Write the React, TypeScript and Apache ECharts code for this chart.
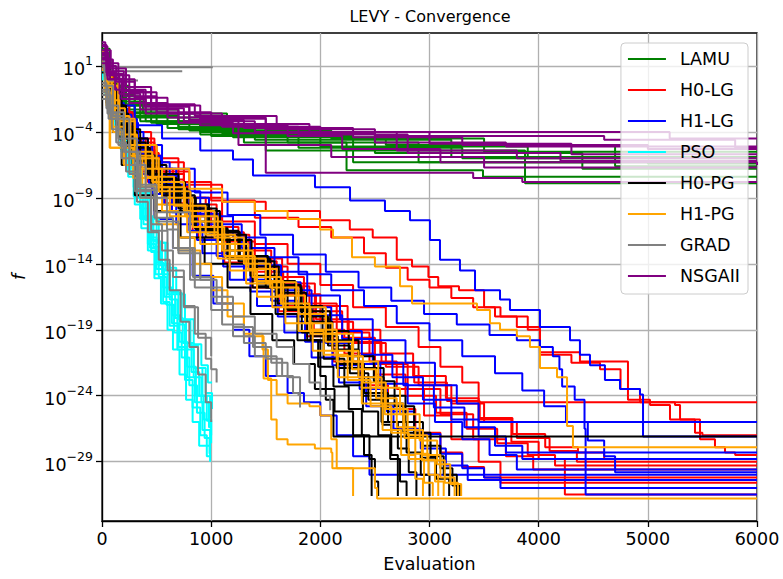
import React, { useEffect, useRef } from "react";
import * as echarts from "echarts";

// x: evaluation number; y values below are log10(f)
const X_MIN = 0;
const X_MAX = 6000;
const X_STEP = 1000;
const Y_LOG_MIN = -33.5;
const Y_LOG_MAX = 3.5;
const Y_TICK_EXPONENTS = [1, -4, -9, -14, -19, -24, -29];

const ALGORITHMS = ["LAMU", "H0-LG", "H1-LG", "PSO", "H0-PG", "H1-PG", "GRAD", "NSGAII"];
const ALGO_COLORS = ["#008000", "#ff0000", "#0000ff", "#00ffff", "#000000", "#ffa500", "#808080", "#800080"];

// each run: flat list of [evaluation, log10 f] pairs (post-step)
const LAMU_RUNS: number[][] = [
  [0, 1.8, 30, 0.5, 100, -1.0, 200, -2.0, 375, -2.6, 1145, -3.9, 2100, -4.5, 3500, -5.5, 6000, -5.5],
  [0, 1.2, 50, -0.3, 150, -1.5, 300, -2.8, 700, -3.6, 1300, -4.8, 2240, -6.9, 3490, -7.4, 6000, -7.4],
  [0, 2.0, 40, 0.2, 120, -1.3, 350, -3.2, 900, -4.2, 2000, -5.1, 3900, -5.9, 6000, -5.9],
  [0, 0.8, 60, -0.8, 200, -2.5, 600, -3.7, 1500, -5.4, 3875, -7.9, 6000, -7.9],
  [0, 1.5, 80, -0.5, 250, -2.6, 800, -3.9, 1700, -4.8, 2900, -6.3, 6000, -6.3],
  [0, 1.0, 45, -0.6, 180, -2.0, 500, -3.4, 1200, -4.4, 2600, -5.0, 4700, -6.6, 6000, -6.6],
  [0, 2.3, 70, 0.0, 220, -2.3, 700, -3.8, 1400, -4.6, 3200, -5.9, 6000, -5.9],
  [0, 1.4, 55, -0.4, 160, -1.9, 450, -3.3, 1000, -4.3, 2300, -6.3, 5000, -6.4, 6000, -6.4],
  [0, 0.5, 90, -1.2, 300, -2.9, 900, -4.0, 1800, -5.2, 3300, -6.0, 6000, -6.0],
  [0, 1.7, 35, 0.1, 140, -1.7, 400, -3.2, 1100, -4.1, 2500, -5.6, 4400, -6.8, 6000, -6.8],
];

const H0_LG_RUNS: number[][] = [
  [0, 1.8, 40, 0.0, 120, -2.0, 250, -4.0, 450, -6.0, 700, -7.8, 1000, -9.2, 1400, -10.5, 1800, -11.2, 2100, -12.0, 2400, -13.2, 2600, -14.3, 2800, -15.2, 3000, -15.8, 3200, -16.6, 3400, -17.3, 3600, -18.0, 3800, -18.8, 4012, -20.9, 4300, -21.5, 4562, -22.0, 4750, -23.5, 4928, -24.5, 5249, -24.7, 5295, -25.8, 5432, -26.8, 5500, -27.0, 6000, -27.0],
  [0, 1.3, 50, -0.5, 140, -2.5, 280, -4.5, 480, -6.3, 750, -8.0, 1100, -9.3, 1500, -10.0, 1997, -10.7, 2270, -11.4, 2480, -12.0, 2700, -13.7, 2840, -14.2, 2990, -15.0, 3080, -15.7, 3270, -16.0, 3500, -17.3, 3650, -18.0, 3900, -19.0, 4012, -20.7, 4378, -21.4, 4818, -24.3, 5020, -24.7, 5203, -25.8, 5478, -27.3, 5615, -27.9, 5707, -28.3, 5800, -28.5, 6000, -28.5],
  [0, 1.0, 60, -1.0, 150, -3.0, 300, -5.0, 500, -7.0, 800, -9.0, 1100, -10.8, 1400, -12.5, 1700, -14.0, 2000, -15.6, 2300, -17.3, 2600, -18.8, 2900, -20.3, 3100, -21.8, 3300, -23.0, 3450, -24.5, 6000, -24.5],
  [0, 1.5, 45, -0.5, 130, -2.5, 280, -4.8, 480, -7.2, 750, -9.5, 1050, -11.8, 1350, -13.6, 1650, -15.5, 1950, -17.2, 2250, -19.0, 2550, -20.8, 2850, -22.5, 3150, -24.2, 3450, -25.8, 3750, -27.5, 4000, -28.8, 4240, -31.5, 6000, -31.5],
  [0, 2.0, 35, 0.2, 100, -2.2, 220, -4.5, 400, -6.8, 650, -9.0, 950, -11.2, 1250, -13.0, 1550, -15.0, 1850, -17.0, 2150, -19.2, 2450, -21.4, 2700, -23.5, 2950, -25.5, 3200, -27.3, 3450, -29.0, 3650, -30.6, 6000, -30.6],
  [0, 1.2, 50, -0.8, 140, -2.9, 300, -5.4, 500, -7.6, 750, -9.8, 1000, -11.6, 1300, -13.8, 1600, -15.7, 1900, -17.6, 2200, -19.6, 2500, -21.6, 2800, -23.5, 3100, -25.4, 3400, -27.3, 3700, -28.6, 3950, -29.6, 6000, -29.6],
  [0, 0.7, 65, -1.5, 170, -3.6, 330, -5.8, 550, -8.2, 800, -10.2, 1100, -12.3, 1400, -14.2, 1700, -16.3, 2000, -18.4, 2300, -20.0, 2600, -21.8, 2900, -23.2, 3200, -24.6, 3500, -26.0, 3800, -27.2, 4100, -28.2, 4350, -29.0, 6000, -29.0],
  [0, 1.6, 40, -0.6, 110, -2.7, 240, -5.3, 420, -7.8, 640, -10.0, 880, -12.0, 1120, -13.9, 1370, -15.8, 1620, -17.6, 1870, -19.5, 2120, -21.4, 2370, -23.2, 2620, -25.0, 2870, -26.8, 3100, -28.3, 3300, -29.4, 3500, -30.2, 6000, -30.2],
  [0, 1.4, 55, -0.7, 150, -3.0, 310, -5.6, 520, -8.0, 780, -10.4, 1060, -12.5, 1360, -14.6, 1660, -16.4, 1960, -18.2, 2260, -19.9, 2560, -21.5, 2860, -23.0, 3160, -24.4, 3460, -25.7, 3760, -26.9, 4060, -27.9, 4360, -28.3, 4600, -28.8, 6000, -28.8],
  [0, 1.9, 30, 0.0, 90, -2.4, 200, -4.6, 360, -7.0, 580, -9.4, 830, -11.5, 1100, -13.4, 1380, -15.3, 1660, -17.2, 1940, -19.0, 2220, -20.8, 2500, -22.4, 2780, -24.0, 3060, -25.3, 3340, -26.5, 3620, -27.6, 3900, -28.5, 4150, -29.3, 6000, -29.3],
];

const H1_LG_RUNS: number[][] = [
  [0, 1.2, 40, -0.5, 120, -2.0, 300, -3.5, 550, -4.5, 900, -5.4, 1200, -6.1, 1383, -7.3, 1951, -8.2, 2272, -9.2, 2592, -10.0, 2821, -10.7, 3004, -12.2, 3096, -13.7, 3279, -14.5, 3417, -16.0, 3646, -16.7, 3737, -17.5, 4012, -18.8, 4287, -19.8, 4378, -20.9, 4470, -21.7, 4607, -22.8, 4745, -23.5, 4928, -23.9, 4956, -27.1, 6000, -27.1],
  [0, 0.9, 50, -1.0, 150, -3.0, 320, -5.0, 550, -6.8, 850, -8.6, 1150, -10.3, 1450, -11.8, 1750, -13.3, 2050, -14.6, 2350, -15.8, 2650, -16.8, 2950, -17.8, 3250, -18.6, 3550, -19.4, 3800, -19.8, 4012, -20.3, 4130, -21.0, 4190, -22.0, 4215, -23.3, 4330, -24.3, 4420, -26.5, 4430, -31.5, 6000, -31.5],
  [0, 1.6, 35, -0.3, 100, -2.2, 230, -4.5, 420, -6.8, 680, -9.0, 980, -11.0, 1280, -12.8, 1580, -14.6, 1880, -16.4, 2180, -18.2, 2480, -19.8, 2780, -21.5, 3050, -23.2, 3250, -24.6, 3450, -26.0, 6000, -26.0],
  [0, 1.3, 45, -0.7, 130, -2.7, 270, -5.0, 460, -7.3, 700, -9.5, 980, -11.6, 1260, -13.5, 1540, -15.4, 1820, -17.3, 2100, -19.1, 2380, -20.9, 2660, -22.6, 2940, -24.3, 3200, -25.8, 3450, -27.1, 3700, -28.3, 6000, -28.3],
  [0, 2.0, 30, 0.3, 90, -1.8, 200, -4.0, 380, -6.3, 620, -8.5, 900, -10.4, 1200, -12.0, 1500, -13.5, 1800, -14.8, 2100, -16.0, 2400, -17.2, 2700, -18.5, 3000, -19.8, 3300, -21.0, 3600, -22.3, 3850, -23.6, 4050, -24.8, 4250, -26.0, 4450, -27.4, 4600, -28.6, 4700, -29.8, 6000, -29.8],
  [0, 1.0, 60, -1.2, 160, -3.3, 330, -5.8, 540, -8.0, 800, -10.2, 1080, -12.2, 1360, -14.1, 1640, -16.0, 1920, -17.9, 2200, -19.7, 2480, -21.5, 2760, -23.2, 3040, -24.9, 3320, -26.4, 3600, -27.8, 3850, -28.8, 6000, -28.8],
  [0, 1.4, 40, -0.8, 100, -3.0, 200, -5.6, 330, -8.2, 480, -10.6, 650, -12.8, 830, -14.9, 1020, -17.0, 1200, -19.0, 1350, -21.0, 1500, -22.5, 1700, -23.8, 1850, -24.5, 2000, -25.5, 2150, -27.0, 2300, -28.6, 2450, -30.0, 6000, -30.0],
  [0, 0.6, 55, -1.6, 140, -3.8, 280, -6.2, 460, -8.7, 680, -11.0, 920, -13.2, 1170, -15.2, 1420, -17.2, 1670, -19.2, 1920, -21.1, 2170, -23.0, 2420, -24.8, 2670, -26.5, 2920, -28.0, 3150, -29.3, 3350, -30.4, 6000, -30.4],
  [0, 1.7, 35, -0.1, 95, -2.3, 210, -4.8, 370, -7.2, 570, -9.5, 800, -11.5, 1050, -13.4, 1300, -15.2, 1550, -16.8, 1800, -18.4, 2050, -20.0, 2300, -21.6, 2550, -23.1, 2800, -24.6, 3050, -26.0, 3300, -27.3, 3550, -28.5, 3800, -29.6, 6000, -29.6],
  [0, 1.1, 50, -0.9, 130, -3.1, 260, -5.5, 430, -7.9, 640, -10.1, 870, -12.2, 1110, -14.2, 1360, -16.1, 1610, -18.0, 1860, -19.9, 2110, -21.7, 2360, -23.5, 2610, -25.2, 2860, -26.9, 3100, -28.4, 3300, -29.5, 3500, -30.2, 3650, -31.0, 6000, -31.0],
];

const PSO_RUNS: number[][] = [
  [0, 0.3, 30, -1.2, 70, -2.4, 120, -3.6, 180, -5.5, 240, -7.4, 300, -9.5, 360, -11.3, 420, -13.0, 480, -15.1, 540, -17.0, 600, -19.0, 650, -20.5, 710, -22.4, 770, -24.3, 830, -26.0, 890, -27.8, 990, -29.0],
  [0, 0.1, 40, -1.5, 100, -3.2, 170, -5.3, 230, -7.0, 290, -8.9, 350, -10.6, 420, -12.5, 490, -14.8, 560, -16.9, 620, -18.7, 690, -20.5, 760, -22.8, 830, -24.9, 900, -27.0, 960, -28.6, 1000, -28.6],
  [0, 0.4, 50, -1.3, 110, -3.0, 160, -4.6, 230, -6.6, 300, -8.7, 370, -10.5, 440, -12.8, 500, -14.4, 570, -16.5, 640, -18.5, 700, -20.3, 780, -22.6, 850, -24.5, 920, -26.6, 990, -28.2],
  [0, 0.0, 35, -1.0, 90, -2.5, 150, -4.3, 220, -6.3, 290, -8.2, 350, -9.8, 430, -12.0, 500, -13.9, 560, -15.8, 640, -17.9, 710, -19.9, 780, -21.8, 860, -24.0, 930, -25.8, 1000, -27.6],
  [0, 0.6, 60, -1.4, 120, -3.1, 190, -5.2, 260, -7.0, 330, -8.9, 400, -10.7, 470, -12.7, 550, -14.8, 620, -16.7, 690, -18.6, 760, -20.5, 840, -22.6, 910, -24.5, 980, -26.4, 1005, -26.4],
  [0, 0.2, 45, -1.1, 110, -2.9, 180, -4.7, 250, -6.5, 320, -8.4, 400, -10.4, 470, -12.3, 540, -14.0, 620, -16.1, 700, -18.2, 770, -20.0, 840, -21.9, 920, -24.0, 990, -25.7],
  [0, 0.5, 55, -1.2, 120, -2.9, 200, -5.0, 270, -6.8, 340, -8.5, 420, -10.5, 500, -12.4, 580, -14.5, 650, -16.2, 730, -18.3, 810, -20.2, 880, -21.9, 950, -23.8, 1008, -25.0],
  [0, 0.3, 50, -1.0, 130, -3.0, 210, -5.0, 290, -6.9, 360, -8.6, 440, -10.6, 520, -12.4, 600, -14.3, 680, -16.3, 760, -18.2, 840, -20.1, 910, -21.7, 970, -23.0, 1008, -23.0],
  [0, 0.0, 40, -1.4, 100, -3.0, 170, -5.0, 240, -7.1, 310, -9.0, 380, -11.0, 450, -13.1, 520, -15.0, 590, -17.1, 660, -19.2, 730, -21.1, 800, -23.2, 870, -25.3, 940, -27.2, 985, -28.4],
  [0, 0.4, 30, -0.8, 90, -2.6, 160, -4.4, 230, -6.2, 300, -8.2, 380, -10.4, 450, -12.2, 520, -14.1, 600, -16.3, 670, -18.1, 740, -20.0, 820, -22.2, 890, -24.0, 960, -25.9, 1000, -27.0],
];

const H0_PG_RUNS: number[][] = [
  [0, 1.5, 30, -0.5, 80, -2.5, 160, -4.5, 280, -6.5, 450, -8.0, 720, -10.0, 950, -12.0, 1170, -14.0, 1380, -15.8, 1590, -17.8, 1790, -19.8, 1980, -21.8, 2120, -23.3, 2260, -25.0, 2380, -27.0, 2450, -28.8, 2500, -30.5, 2530, -31.6],
  [0, 1.0, 50, -1.5, 130, -3.5, 260, -5.8, 480, -7.8, 760, -9.8, 1050, -11.8, 1320, -13.8, 1580, -15.8, 1830, -18.0, 2070, -20.2, 2270, -22.3, 2440, -24.3, 2570, -26.2, 2650, -28.5, 2710, -31.6],
  [0, 2.0, 40, 0.0, 100, -2.0, 220, -4.5, 420, -7.2, 700, -9.5, 980, -11.5, 1250, -13.8, 1500, -15.8, 1700, -17.5, 1880, -19.8, 2000, -22.5, 2050, -24.3, 2120, -27.1, 6000, -27.1],
  [0, 0.8, 60, -1.8, 150, -4.0, 320, -6.8, 550, -8.8, 850, -11.3, 1150, -13.5, 1420, -15.5, 1670, -17.4, 1920, -19.5, 2160, -21.6, 2400, -23.8, 2620, -26.0, 2790, -28.3, 2920, -30.0, 3000, -31.6],
  [0, 1.3, 45, -0.8, 130, -3.2, 280, -5.8, 500, -8.3, 780, -10.0, 1080, -12.2, 1370, -14.2, 1620, -16.2, 1870, -18.4, 2110, -20.5, 2350, -22.6, 2580, -24.6, 2760, -26.8, 2930, -28.7, 3060, -30.3, 3180, -31.6],
  [0, 1.7, 35, -0.2, 110, -2.6, 240, -5.2, 440, -7.6, 700, -9.8, 980, -11.6, 1260, -13.4, 1520, -15.3, 1770, -17.2, 2020, -19.1, 2260, -21.0, 2490, -22.9, 2680, -24.8, 2860, -26.8, 3010, -28.6, 3130, -30.0, 3250, -31.6],
  [0, 0.5, 40, -1.8, 100, -4.0, 180, -6.5, 300, -8.8, 480, -10.0, 720, -12.0, 940, -14.0, 1150, -15.8, 1360, -17.8, 1560, -19.8, 1760, -21.6, 1950, -23.5, 2130, -25.2, 2300, -27.0, 2400, -28.5, 2470, -31.6],
  [0, 1.1, 70, -1.0, 180, -3.8, 350, -6.5, 590, -9.0, 860, -11.4, 1150, -13.6, 1420, -15.7, 1670, -17.8, 1910, -19.8, 2150, -21.9, 2380, -24.0, 2560, -26.0, 2710, -28.0, 2810, -29.8, 2880, -31.6],
  [0, 1.9, 30, 0.2, 90, -2.0, 200, -4.8, 400, -7.5, 680, -9.6, 960, -11.6, 1260, -13.6, 1540, -15.6, 1820, -17.6, 2090, -19.8, 2350, -21.9, 2580, -24.0, 2780, -26.0, 2940, -27.8, 3100, -29.5, 3210, -30.8, 3280, -31.6],
  [0, 0.9, 55, -1.3, 140, -3.6, 300, -6.2, 530, -8.6, 810, -10.8, 1100, -13.0, 1360, -14.9, 1610, -17.0, 1830, -19.2, 2030, -21.2, 2220, -23.2, 2390, -25.2, 2530, -27.0, 2640, -28.8, 2730, -30.5, 2790, -31.6],
];

const H1_PG_RUNS: number[][] = [
  [0, 1.2, 30, -1.0, 70, -5.2, 290, -6.0, 400, -8.0, 550, -10.0, 700, -12.0, 850, -14.0, 1000, -16.0, 1150, -18.0, 1300, -19.5, 1480, -22.7, 1550, -25.8, 1600, -27.3, 1700, -27.7, 1950, -28.0, 2100, -28.3, 2110, -29.5, 2500, -31.0, 2520, -31.8, 6000, -31.8],
  [0, 1.5, 50, -0.5, 150, -3.0, 300, -5.0, 500, -6.8, 800, -8.3, 1100, -9.3, 1400, -10.0, 1700, -10.6, 1997, -11.4, 2116, -12.0, 2290, -13.5, 2500, -14.2, 2730, -15.7, 2840, -17.0, 3435, -17.5, 3554, -18.5, 3646, -19.0, 3800, -19.5, 3920, -20.3, 4012, -21.9, 4168, -22.6, 4260, -26.3, 4314, -27.9, 6000, -27.9],
  [0, 0.8, 40, -2.0, 100, -4.0, 200, -6.5, 350, -9.0, 500, -11.0, 700, -13.0, 900, -15.0, 1100, -17.0, 1300, -19.3, 1470, -20.5, 1520, -22.8, 1600, -23.9, 1700, -24.6, 1900, -24.8, 2000, -25.5, 2100, -27.3, 2150, -29.5, 2300, -31.6],
  [0, 1.4, 40, -0.6, 110, -2.8, 250, -5.5, 460, -7.8, 750, -10.0, 1030, -12.0, 1300, -14.0, 1540, -15.8, 1800, -17.8, 2050, -19.9, 2290, -22.0, 2510, -24.2, 2700, -26.4, 2870, -28.4, 2990, -30.0, 3080, -31.6],
  [0, 2.1, 30, 0.3, 90, -2.2, 210, -5.0, 400, -7.4, 660, -9.6, 950, -11.8, 1220, -13.6, 1500, -15.4, 1780, -17.3, 2050, -19.3, 2300, -21.4, 2530, -23.4, 2730, -25.4, 2910, -27.4, 3070, -29.2, 3190, -30.7, 3290, -31.6],
  [0, 1.0, 60, -1.6, 160, -4.2, 320, -6.8, 550, -9.0, 830, -11.2, 1120, -13.4, 1400, -15.3, 1660, -17.3, 1910, -19.3, 2150, -21.4, 2380, -23.4, 2590, -25.4, 2770, -27.2, 2930, -28.9, 3050, -30.5, 3130, -31.6],
  [0, 1.6, 45, -0.4, 120, -3.0, 260, -5.8, 470, -8.2, 760, -10.4, 1060, -12.5, 1340, -14.4, 1600, -16.4, 1860, -18.5, 2110, -20.6, 2350, -22.6, 2560, -24.6, 2760, -26.6, 2940, -28.5, 3100, -30.2, 3230, -31.6],
  [0, 0.7, 35, -1.5, 100, -3.6, 200, -6.0, 370, -8.2, 620, -10.4, 900, -12.5, 1170, -14.5, 1420, -16.5, 1680, -18.5, 1930, -20.6, 2160, -22.6, 2380, -24.6, 2570, -26.6, 2740, -28.5, 2870, -30.3, 2940, -31.6],
  [0, 1.8, 55, -0.2, 150, -3.2, 300, -6.0, 520, -8.5, 810, -10.8, 1100, -13.0, 1380, -15.0, 1640, -17.0, 1900, -19.0, 2150, -21.0, 2390, -23.0, 2600, -25.0, 2800, -27.0, 2980, -28.9, 3140, -30.6, 3260, -31.6],
  [0, 1.1, 25, -1.0, 75, -5.2, 285, -7.5, 500, -9.5, 780, -11.6, 1060, -13.6, 1320, -15.5, 1560, -17.3, 1800, -19.1, 2030, -20.9, 2250, -22.8, 2460, -24.8, 2650, -26.8, 2810, -28.8, 2950, -30.6, 3030, -31.6],
];

const GRAD_RUNS: number[][] = [
  [0, 1.8, 20, 0.9, 1015, 0.9],
  [0, 1.5, 15, 0.7, 60, 0.6, 735, 0.6],
  [0, 1.2, 25, 0.2, 60, -0.1, 330, -0.1],
  [0, -1.5, 60, -3.0, 150, -5.0, 250, -7.2, 350, -9.0, 450, -11.0, 550, -13.0, 650, -15.0, 750, -17.2, 850, -19.3, 950, -21.2, 1000, -22.0, 1050, -23.0],
  [0, -1.0, 50, -2.6, 130, -4.8, 220, -7.0, 320, -9.3, 420, -11.6, 520, -13.7, 620, -16.0, 720, -18.4, 800, -20.3, 880, -22.4, 950, -24.5, 1000, -26.0],
  [0, -0.5, 50, -2.0, 150, -4.5, 320, -8.4, 500, -10.8, 700, -13.2, 900, -15.2, 1050, -17.0, 1200, -18.8, 1383, -20.3, 1550, -21.5, 1700, -22.6, 1814, -24.9],
  [0, -1.2, 80, -3.0, 250, -6.5, 400, -9.0, 595, -11.4, 700, -13.0, 833, -15.0, 1000, -16.5, 1200, -18.0, 1400, -19.3, 1600, -20.3, 1750, -21.6, 1900, -23.0, 2000, -24.0, 2090, -25.1],
  [0, -0.8, 70, -2.5, 200, -5.5, 350, -8.0, 500, -10.1, 806, -15.2, 1000, -17.5, 1200, -19.5, 1400, -21.0, 1600, -22.5, 1750, -23.8, 1800, -24.0],
  [0, -0.3, 40, -2.2, 90, -3.8, 180, -6.0, 300, -8.5, 450, -11.5, 600, -14.5, 750, -17.3, 880, -19.6, 1000, -21.0],
  [0, 1.0, 30, -0.5, 100, -2.8, 200, -5.5, 330, -8.2, 480, -10.5, 650, -12.8, 850, -15.8, 1100, -18.6, 1300, -20.0, 1500, -21.2, 1650, -22.5],
];

const NSGAII_RUNS: number[][] = [
  [0, 2.5, 50, 1.2, 150, 0.0, 300, -1.0, 500, -2.0, 900, -3.0, 1500, -3.8, 2500, -4.3, 4600, -4.6, 5800, -5.2, 6000, -5.2],
  [0, 1.8, 40, 0.5, 120, -0.8, 250, -1.8, 600, -2.9, 1500, -7.1, 3400, -7.5, 3850, -7.8, 6000, -7.8],
  [0, 2.0, 60, 0.6, 200, -0.8, 400, -2.0, 800, -3.1, 1300, -3.7, 2300, -4.4, 3300, -5.0, 5000, -5.3, 6000, -5.3],
  [0, 1.5, 70, 0.0, 200, -1.3, 500, -2.5, 1000, -3.4, 1900, -4.0, 2700, -5.4, 3800, -6.0, 6000, -6.0],
  [0, 2.8, 30, 1.5, 100, 0.3, 250, -1.0, 450, -2.2, 750, -3.2, 1400, -4.0, 3000, -4.9, 4300, -5.7, 6000, -5.7],
  [0, 1.2, 50, 0.0, 180, -1.5, 400, -2.6, 900, -3.5, 1700, -4.3, 2200, -5.3, 3100, -6.3, 6000, -6.5],
  [0, 2.2, 80, 0.8, 220, -0.6, 450, -1.9, 850, -2.8, 1600, -3.6, 2000, -4.0, 5200, -4.5, 6000, -4.5],
  [0, 1.9, 45, 0.3, 160, -1.1, 350, -2.3, 700, -3.3, 1200, -4.1, 2500, -4.8, 3700, -5.1, 6000, -5.1],
  [0, 2.6, 40, 1.0, 130, -0.2, 300, -1.4, 600, -2.6, 1100, -3.6, 1800, -4.2, 2800, -5.6, 4200, -6.2, 6000, -6.2],
  [0, 1.6, 65, 0.4, 190, -0.9, 380, -2.1, 800, -3.2, 1250, -5.0, 2100, -5.9, 3500, -6.7, 6000, -6.7],
];

const ALL_RUNS: number[][][] = [LAMU_RUNS, H0_LG_RUNS, H1_LG_RUNS, PSO_RUNS, H0_PG_RUNS, H1_PG_RUNS, GRAD_RUNS, NSGAII_RUNS];

const FONT = "DejaVu Sans";
const FS = 17.5;

function toPairs(flat: number[]): number[][] {
  const out: number[][] = [];
  for (let i = 0; i + 1 < flat.length; i += 2) out.push([flat[i], flat[i + 1]]);
  return out;
}

function expLabel(v: number): string {
  const e = Math.round(v);
  const s = e < 0 ? "\u2212" + String(-e) : String(e);
  return `{b|10}{s|${s}}`;
}

export default function App() {
  const ref = useRef<HTMLDivElement>(null);
  useEffect(() => {
    if (!ref.current) return;
    const chart = echarts.init(ref.current, undefined, { renderer: "svg" });
    const series: any[] = [];
    ALL_RUNS.forEach((runs, gi) => {
      runs.forEach((run) => {
        series.push({
          type: "line",
          name: ALGORITHMS[gi],
          step: "end",
          symbol: "none",
          showSymbol: false,
          data: toPairs(run),
          color: ALGO_COLORS[gi],
          lineStyle: { width: 2, color: ALGO_COLORS[gi] },
          emphasis: { disabled: true },
          silent: true,
          clip: true,
        });
      });
    });
    chart.setOption({
      animation: false,
      grid: { left: 102, right: 26, top: 33, bottom: 58, show: true, borderColor: "#000", borderWidth: 1.3, backgroundColor: "transparent" },
      graphic: [
        {
          type: "text",
          x: 430,
          y: 16,
          style: { text: "LEVY - Convergence", fontSize: 16, fontFamily: FONT, fill: "#000", align: "center", verticalAlign: "middle" },
        },
      ],
      legend: {
        data: ALGORITHMS,
        orient: "vertical",
        right: 35,
        top: 43,
        itemWidth: 38,
        itemHeight: 14,
        itemGap: 13,
        padding: [7, 8, 9, 6],
        backgroundColor: "rgba(255,255,255,0.8)",
        borderColor: "#cccccc",
        borderWidth: 1,
        borderRadius: 4,
        itemStyle: { opacity: 0 },
        lineStyle: { width: 2 },
        textStyle: { fontSize: FS, fontFamily: FONT, color: "#000", padding: [0, 0, 0, 9] },
      },
      xAxis: {
        type: "value",
        min: X_MIN,
        max: X_MAX,
        interval: X_STEP,
        name: "Evaluation",
        nameLocation: "middle",
        nameGap: 34,
        nameTextStyle: { fontSize: FS, fontFamily: FONT, color: "#000" },
        axisLine: { show: true, onZero: false, lineStyle: { color: "#000", width: 1.3 } },
        axisTick: { show: true, inside: false, length: 6, lineStyle: { color: "#000", width: 1.3 } },
        axisLabel: { fontSize: FS, fontFamily: FONT, color: "#000", margin: 9, formatter: (v: number) => String(v) },
        splitLine: { show: true, lineStyle: { color: "#b0b0b0", width: 1.3 } },
      },
      yAxis: {
        type: "value",
        min: Y_LOG_MIN,
        max: Y_LOG_MAX,
        name: "f",
        nameLocation: "middle",
        nameGap: 74,
        nameTextStyle: { fontSize: FS, fontFamily: FONT, fontStyle: "italic", color: "#000" },
        axisLine: { show: true, onZero: false, lineStyle: { color: "#000", width: 1.3 } },
        axisTick: { show: true, inside: false, length: 6, customValues: Y_TICK_EXPONENTS, lineStyle: { color: "#000", width: 1.3 } },
        axisLabel: {
          customValues: Y_TICK_EXPONENTS,
          margin: 9,
          formatter: (v: number) => expLabel(v),
          rich: {
            b: { fontSize: FS, fontFamily: FONT, color: "#000", lineHeight: 24, verticalAlign: "bottom" },
            s: { fontSize: 12.5, fontFamily: FONT, color: "#000", lineHeight: 24, verticalAlign: "top" },
          },
        },
        splitLine: { show: true, lineStyle: { color: "#b0b0b0", width: 1.3 } },
      },
      series,
    });
    return () => chart.dispose();
  }, []);
  return <div ref={ref} style={{ width: 783, height: 579, position: "absolute", left: 0, top: 0 }} />;
}
